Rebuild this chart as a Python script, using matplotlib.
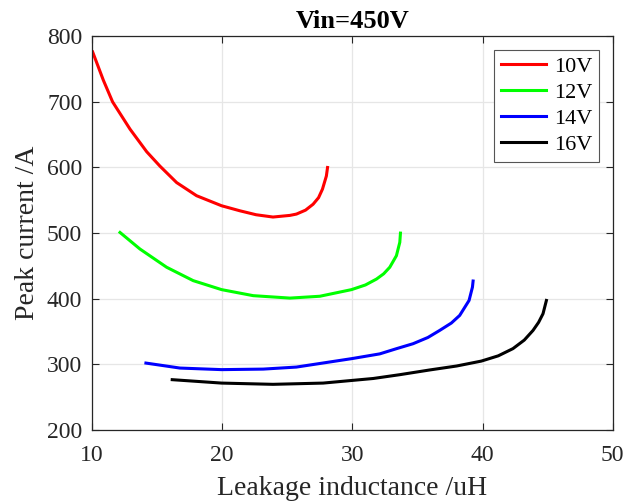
import matplotlib
matplotlib.use("Agg")
import matplotlib.pyplot as plt

plt.rcParams['font.family'] = ['Liberation Serif', 'DejaVu Serif']

# leakage inductance (uH) / peak current (A) for each output voltage
x_10v = [10.05, 10.87, 11.58, 12.92, 14.2, 15.22, 16.5, 18.03, 19.95, 21.36,
         22.6, 23.9, 25.2, 25.7, 26.4, 26.98, 27.4, 27.7, 28.0, 28.09]
y_10v = [776, 733, 700, 658.4, 624, 602, 577, 557, 541.7, 534,
         528, 524.5, 527, 529, 535, 544, 554, 567, 587, 600]

x_12v = [12.15, 13.68, 15.73, 17.77, 19.95, 22.38, 25.2, 27.5, 29.93, 31.0,
         31.85, 32.4, 32.87, 33.38, 33.64, 33.69]
y_12v = [501, 475.8, 448, 427.6, 413.9, 404.7, 401, 403.8, 413.9, 421,
         430, 438, 448, 465.6, 486, 500]

x_14v = [14.14, 16.75, 19.95, 23.15, 25.7, 29.93, 32.1, 33.38, 34.66, 35.8,
         36.7, 37.6, 38.24, 38.96, 39.22, 39.27]
y_14v = [302, 294.4, 292, 292.8, 295.9, 308.7, 316, 323.9, 331.5, 341,
         351.7, 363, 374.6, 397.4, 417.7, 427]

x_16v = [16.16, 19.95, 23.9, 27.75, 31.6, 33.64, 35.94, 38.0, 39.9, 41.2,
         42.33, 43.2, 43.87, 44.3, 44.64, 44.9]
y_16v = [276.7, 271.5, 269.6, 271.5, 278.5, 284.3, 291.5, 297.5, 305, 313,
         324, 337, 351.7, 364, 377.2, 397.4]

series = [
    ('10V', x_10v, y_10v, '#ff0000'),
    ('12V', x_12v, y_12v, '#00ff00'),
    ('14V', x_14v, y_14v, '#0000ff'),
    ('16V', x_16v, y_16v, '#000000'),
]

fig = plt.figure(figsize=(6.39, 5.01), dpi=100)
ax = fig.add_axes([0.144, 0.1417, 0.815, 0.786])

for label, xs, ys, color in series:
    ax.plot(xs, ys, color=color, lw=2.2, label=label, solid_joinstyle='round')

ax.set_xlim(10, 50)
ax.set_ylim(200, 800)
ax.set_xticks([10, 20, 30, 40, 50])
ax.set_yticks([200, 300, 400, 500, 600, 700, 800])
ax.grid(True, color='#e6e6e6', lw=0.9)
ax.set_axisbelow(True)
ax.tick_params(direction='in', top=True, right=True, labelsize=17, length=5,
               color='#262626', labelcolor='#262626')
ax.tick_params(axis='x', pad=11)
ax.tick_params(axis='y', pad=7)
for sp in ax.spines.values():
    sp.set_color('#262626')
    sp.set_linewidth(0.9)

ax.set_xlabel('Leakage inductance /uH', fontsize=20, color='#262626', labelpad=7)
ax.set_ylabel('Peak current /A', fontsize=20, color='#262626', labelpad=5)
ax.set_title('Vin=450V', fontsize=19, fontweight='bold', pad=6)

leg = ax.legend(loc='upper right', fontsize=16, fancybox=False, framealpha=1,
                edgecolor='#555555', handlelength=2.0, borderaxespad=0.6,
                labelspacing=0.25, handletextpad=0.4, borderpad=0.3)
leg.get_frame().set_linewidth(0.8)

fig.savefig('out.png', dpi=100)
